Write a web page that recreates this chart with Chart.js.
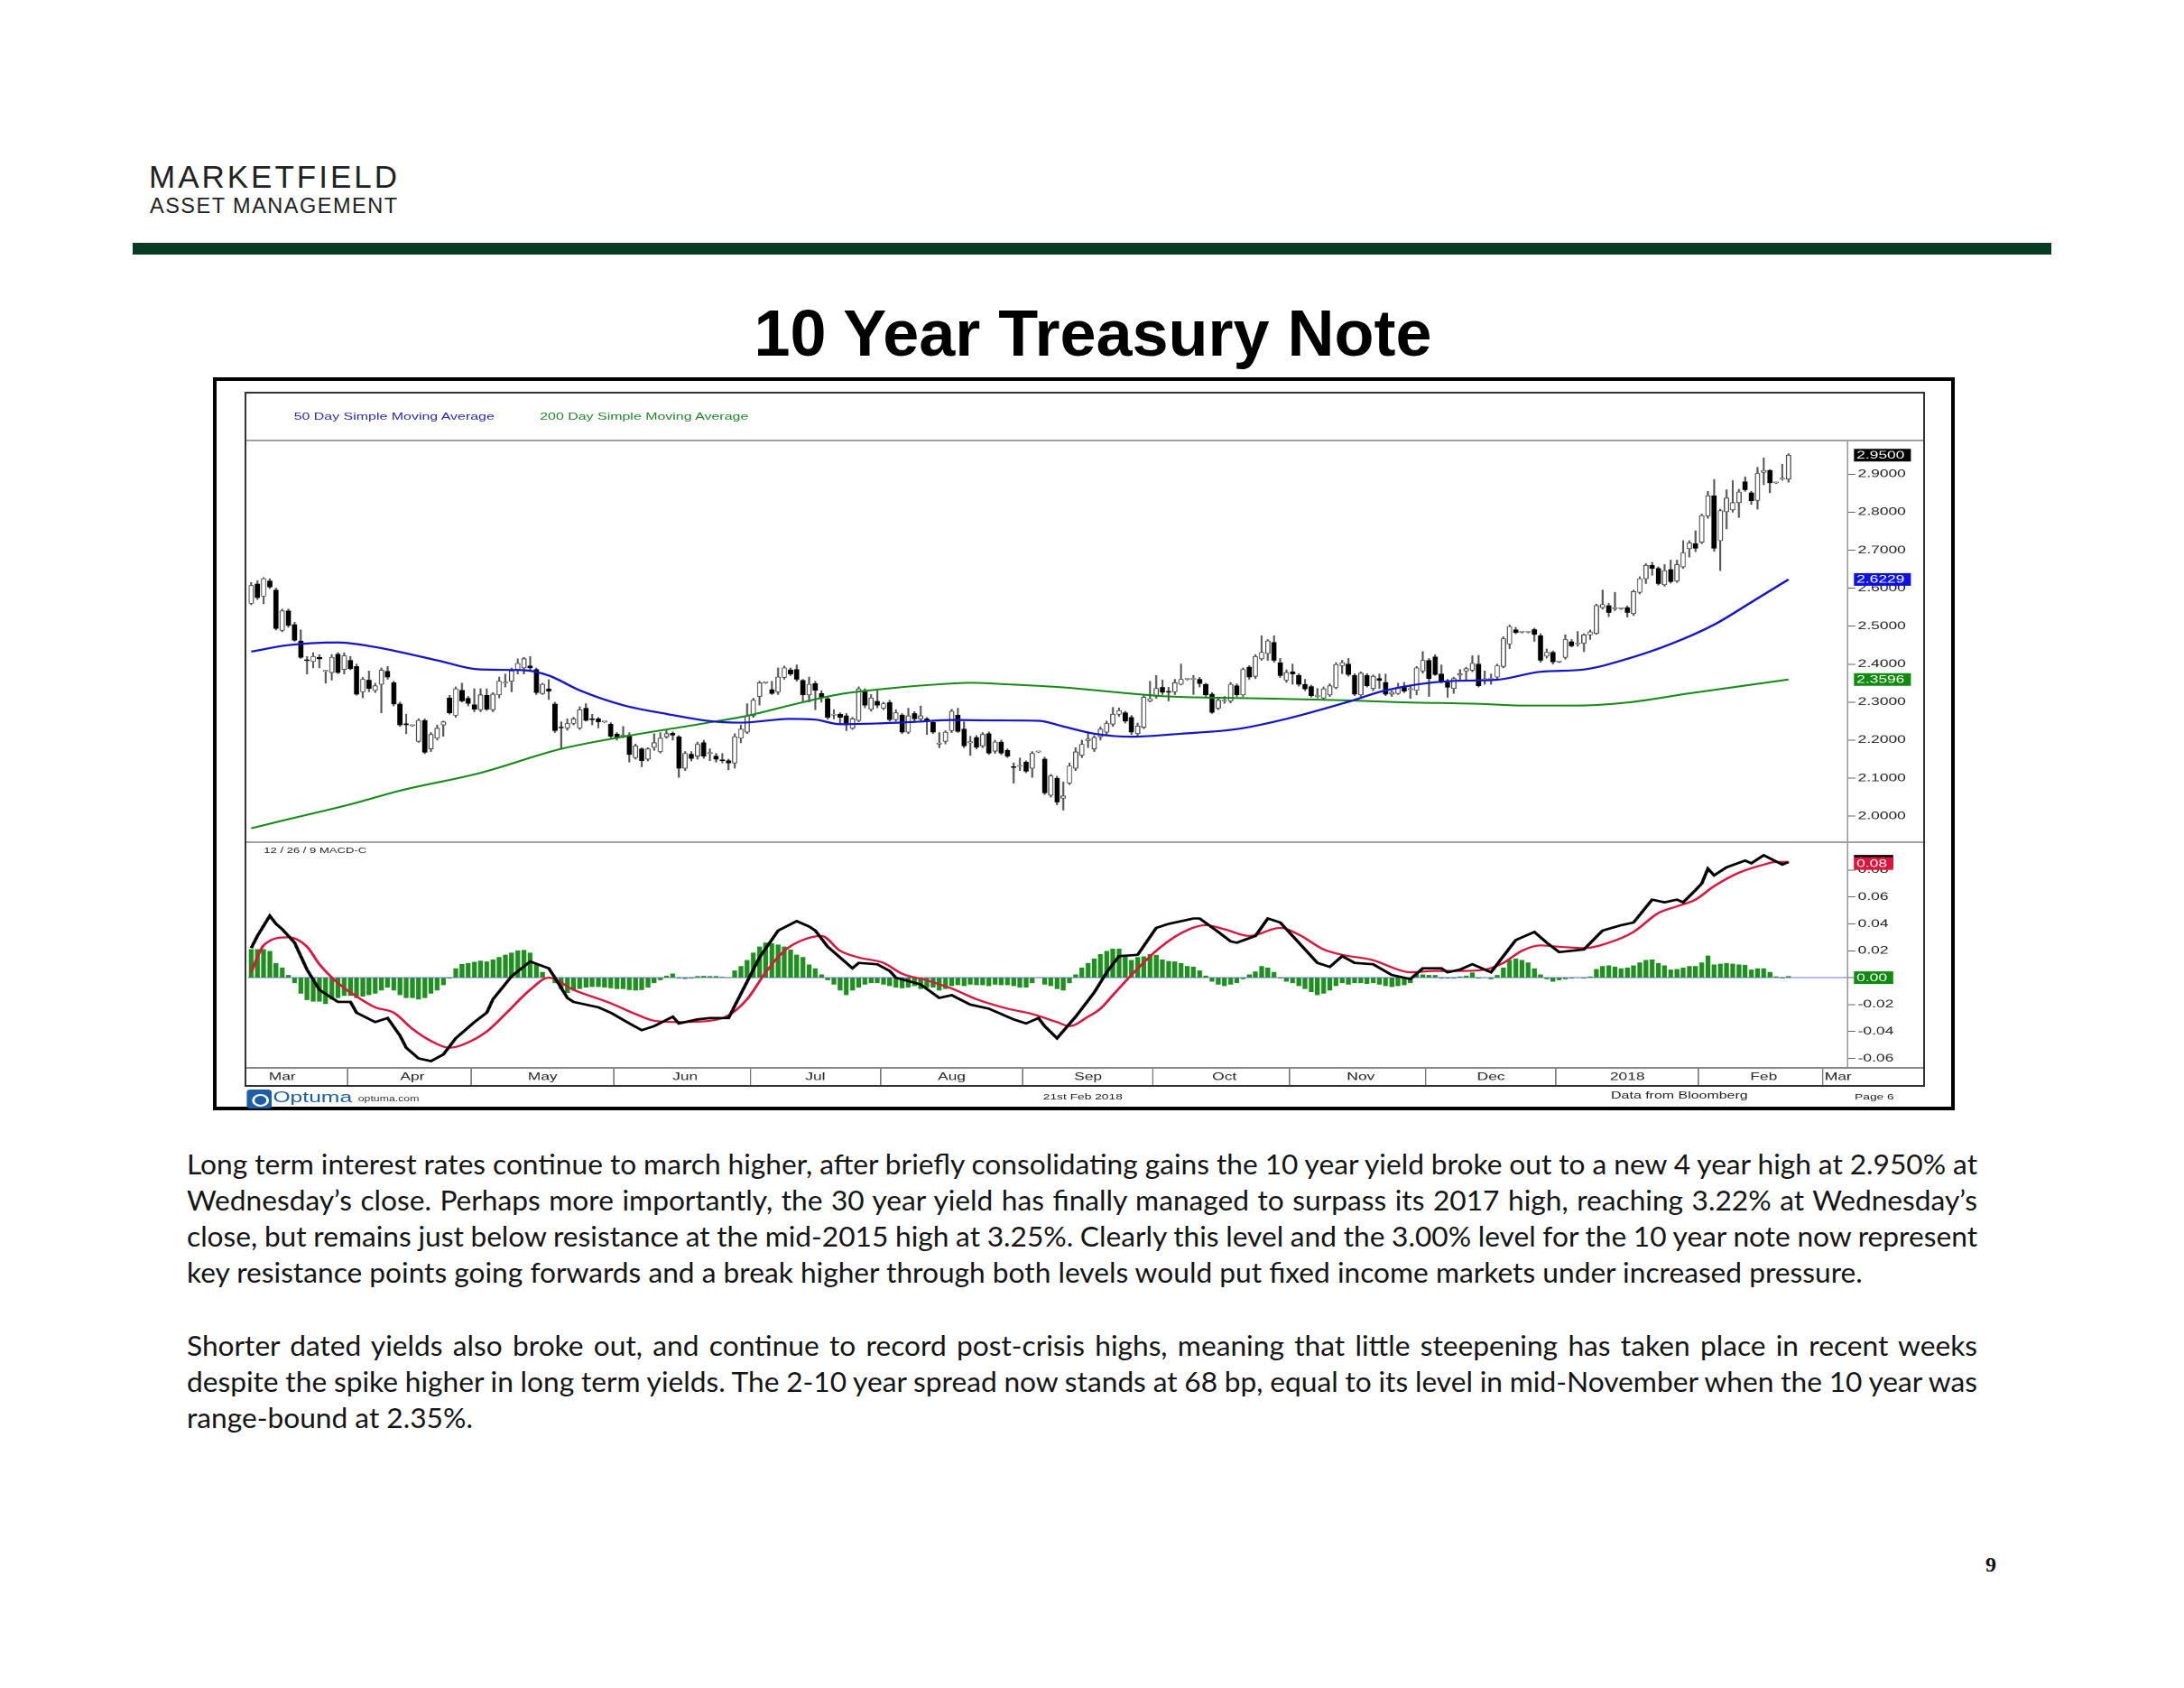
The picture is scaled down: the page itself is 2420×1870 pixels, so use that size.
<!DOCTYPE html>
<html>
<head>
<meta charset="utf-8">
<title>10 Year Treasury Note</title>
<script src="https://cdn.jsdelivr.net/npm/chart.js@4.4.1/dist/chart.umd.min.js"></script>
<style>
  html, body { margin: 0; padding: 0; background: #fff; }
  #page { position: relative; width: 2420px; height: 1870px; overflow: hidden; font-family: "Liberation Sans", Arial, sans-serif; color: #111; }
  .abs { position: absolute; white-space: nowrap; }
  #brand1 { left: 165px; top: 178px; font-size: 35px; line-height: 35px; color: #222; }
  #brand2 { left: 166px; top: 217px; font-size: 23.5px; line-height: 23.5px; color: #222; }
  #rule { left: 147px; top: 269px; width: 2126px; height: 13px; background: #073b23; }
  #title { left: 0; width: 2422px; text-align: center; top: 333px; font-size: 72px; line-height: 72px; font-weight: bold; color: #000; }
  #box { left: 236px; top: 418px; width: 1930px; height: 812px; border: 4px solid #000; box-sizing: border-box; }
  #frame { left: 271px; top: 434px; width: 1862px; height: 770px; border: 2px solid #333; box-sizing: border-box; }
  .sep { left: 273px; width: 1858px; height: 2px; background: #a0a0a0; }
  #stretch { left: 272px; top: 435px; width: 1283px; height: 795px; transform: scaleX(1.4497); transform-origin: 0 0; }
  #stretch div { position: absolute; white-space: nowrap; }
  .leg { top: 21px; font-size: 11px; line-height: 11px; }
  #priceBox { left: 0; top: 53px; width: 1283px; height: 445px; }
  #macdBox { left: 0; top: 498px; width: 1283px; height: 270px; }
  .foot { top: 775px; font-size: 9.5px; line-height: 10px; color: #222; text-align: center; }
  .jl { position: absolute; left: 207px; width: 1984px; height: 40px; line-height: 40px; white-space: nowrap; font-family: Lato, "Open Sans", sans-serif; font-size: 28px; color: #151515; }
  #pageNo { left: 2192px; top: 1720px; width: 28px; text-align: center; font-family: "Liberation Serif", serif; font-weight: bold; font-size: 24px; line-height: 26px; }
</style>
</head>
<body>
<div id="page">
  <div class="abs" id="brand1">MARKETFIELD</div>
  <div class="abs" id="brand2">ASSET MANAGEMENT</div>
  <div class="abs" id="rule"></div>
  <div class="abs" id="title">10 Year Treasury Note</div>

  <div class="abs" id="box"></div>

  <div class="abs" id="stretch">
    <div class="leg" style="left:37px;color:#2a2ab8;">50 Day Simple Moving Average</div>
    <div class="leg" style="left:225px;color:#23882a;">200 Day Simple Moving Average</div>
    <div id="priceBox"><canvas id="priceChart"></canvas></div>
    <div id="macdBox"><canvas id="macdChart"></canvas></div>
    <div style="left:14px;top:502px;font-size:9px;line-height:10px;color:#222;">12 / 26 / 9 MACD-C</div>
    <div style="left:1px;top:772px;width:19px;height:21px;background:#1d5ea8;border-radius:3px;"></div>
    <div style="left:5px;top:777px;width:9px;height:10px;border:2px solid #fff;border-radius:50%;"></div>
    <div style="left:21px;top:771px;font-size:17px;line-height:20px;color:#1d5ea8;">Optuma</div>
    <div style="left:86px;top:777px;font-size:8.5px;line-height:10px;color:#333;">optuma.com</div>
    <div class="foot" style="left:590px;width:100px;">21st Feb 2018</div>
    <div class="foot" style="left:1036px;width:120px;top:773px;font-size:11px;">Data from Bloomberg</div>
    <div class="foot" style="left:1220px;width:50px;">Page 6</div>
  </div>

  <div class="abs" id="frame"></div>
  <div class="abs sep" style="top:487px;"></div>
  <div class="abs sep" style="top:932px;"></div>
  <div class="abs sep" style="top:1182px;background:#888;"></div>

  <div class="jl just" style="top:1269px;"><span>Long term interest rates continue to march higher, after briefly consolidating gains the 10 year yield broke out to a new 4 year high at 2.950% at</span></div>
  <div class="jl just" style="top:1309px;"><span>Wednesday’s close. Perhaps more importantly, the 30 year yield has finally managed to surpass its 2017 high, reaching 3.22% at Wednesday’s</span></div>
  <div class="jl just" style="top:1349px;"><span>close, but remains just below resistance at the mid-2015 high at 3.25%. Clearly this level and the 3.00% level for the 10 year note now represent</span></div>
  <div class="jl" id="refLine" style="top:1389px;"><span>key resistance points going forwards and a break higher through both levels would put fixed income markets under increased pressure.</span></div>
  <div class="jl just" style="top:1470px;"><span>Shorter dated yields also broke out, and continue to record post-crisis highs, meaning that little steepening has taken place in recent weeks</span></div>
  <div class="jl just" style="top:1510px;"><span>despite the spike higher in long term yields. The 2-10 year spread now stands at 68 bp, equal to its level in mid-November when the 10 year was</span></div>
  <div class="jl" style="top:1550px;"><span>range-bound at 2.35%.</span></div>

  <div class="abs" id="pageNo">9</div>
</div>

<script>
// daily candles, Mar 10 2017 .. Feb 21 2018 (trading days)
const candleOpen = [
  2.560, 2.611, 2.579, 2.619, 2.595, 2.489, 2.540, 2.504, 2.461, 2.410,
  2.407, 2.418, 2.381, 2.378, 2.426, 2.386, 2.410, 2.394, 2.327, 2.358,
  2.331, 2.347, 2.381, 2.351, 2.295, 2.243, 2.238, 2.197, 2.252, 2.177,
  2.205, 2.240, 2.311, 2.265, 2.331, 2.310, 2.293, 2.280, 2.318, 2.280,
  2.319, 2.350, 2.355, 2.386, 2.390, 2.395, 2.386, 2.323, 2.335, 2.295,
  2.234, 2.232, 2.244, 2.232, 2.284, 2.256, 2.256, 2.248, 2.242, 2.216,
  2.210, 2.213, 2.154, 2.177, 2.150, 2.181, 2.170, 2.209, 2.218, 2.209,
  2.126, 2.163, 2.158, 2.193, 2.165, 2.158, 2.148, 2.146, 2.140, 2.205,
  2.221, 2.264, 2.315, 2.351, 2.333, 2.327, 2.365, 2.385, 2.386, 2.357,
  2.319, 2.349, 2.323, 2.309, 2.266, 2.268, 2.264, 2.231, 2.252, 2.331,
  2.281, 2.302, 2.284, 2.299, 2.254, 2.266, 2.221, 2.270, 2.256, 2.256,
  2.247, 2.190, 2.197, 2.225, 2.266, 2.229, 2.193, 2.207, 2.185, 2.217,
  2.171, 2.195, 2.173, 2.129, 2.131, 2.142, 2.126, 2.169, 2.150, 2.055,
  2.100, 2.047, 2.087, 2.126, 2.160, 2.199, 2.177, 2.209, 2.221, 2.242,
  2.268, 2.272, 2.260, 2.217, 2.234, 2.303, 2.315, 2.339, 2.327, 2.327,
  2.347, 2.360, 2.360, 2.360, 2.347, 2.321, 2.284, 2.303, 2.303, 2.343,
  2.319, 2.392, 2.368, 2.414, 2.428, 2.457, 2.404, 2.358, 2.380, 2.370,
  2.347, 2.341, 2.315, 2.311, 2.319, 2.339, 2.396, 2.400, 2.370, 2.319,
  2.370, 2.336, 2.362, 2.352, 2.321, 2.323, 2.339, 2.333, 2.331, 2.382,
  2.410, 2.419, 2.374, 2.352, 2.336, 2.371, 2.382, 2.384, 2.400, 2.359,
  2.360, 2.366, 2.394, 2.453, 2.490, 2.484, 2.484, 2.491, 2.475, 2.421,
  2.431, 2.406, 2.418, 2.459, 2.453, 2.455, 2.477, 2.481, 2.549, 2.554,
  2.546, 2.546, 2.549, 2.533, 2.589, 2.625, 2.660, 2.652, 2.609, 2.649,
  2.619, 2.656, 2.704, 2.717, 2.721, 2.790, 2.843, 2.725, 2.801, 2.806,
  2.825, 2.880, 2.851, 2.831, 2.905, 2.910, 2.877, 2.887, 2.887
];
const candleHigh = [
  2.615, 2.620, 2.628, 2.625, 2.600, 2.545, 2.545, 2.510, 2.490, 2.420,
  2.430, 2.425, 2.384, 2.425, 2.430, 2.430, 2.420, 2.400, 2.365, 2.382,
  2.350, 2.390, 2.394, 2.355, 2.300, 2.268, 2.240, 2.256, 2.256, 2.220,
  2.240, 2.250, 2.318, 2.340, 2.350, 2.315, 2.335, 2.335, 2.335, 2.325,
  2.366, 2.374, 2.390, 2.414, 2.418, 2.420, 2.390, 2.350, 2.359, 2.300,
  2.248, 2.256, 2.260, 2.288, 2.296, 2.268, 2.260, 2.250, 2.246, 2.220,
  2.236, 2.220, 2.190, 2.180, 2.180, 2.217, 2.220, 2.225, 2.222, 2.212,
  2.170, 2.170, 2.195, 2.200, 2.177, 2.165, 2.165, 2.150, 2.217, 2.240,
  2.296, 2.310, 2.355, 2.353, 2.355, 2.390, 2.395, 2.390, 2.398, 2.360,
  2.366, 2.355, 2.330, 2.315, 2.280, 2.272, 2.270, 2.260, 2.340, 2.335,
  2.320, 2.330, 2.300, 2.305, 2.280, 2.270, 2.284, 2.275, 2.290, 2.260,
  2.250, 2.220, 2.225, 2.281, 2.284, 2.248, 2.210, 2.212, 2.220, 2.222,
  2.200, 2.200, 2.177, 2.140, 2.153, 2.146, 2.170, 2.171, 2.155, 2.110,
  2.105, 2.090, 2.140, 2.180, 2.200, 2.220, 2.212, 2.235, 2.250, 2.286,
  2.285, 2.276, 2.265, 2.245, 2.320, 2.355, 2.370, 2.358, 2.339, 2.360,
  2.400, 2.362, 2.370, 2.365, 2.350, 2.325, 2.310, 2.315, 2.352, 2.348,
  2.390, 2.396, 2.425, 2.475, 2.465, 2.475, 2.415, 2.385, 2.400, 2.375,
  2.360, 2.345, 2.336, 2.340, 2.348, 2.404, 2.410, 2.415, 2.375, 2.380,
  2.375, 2.372, 2.374, 2.374, 2.330, 2.350, 2.352, 2.344, 2.394, 2.433,
  2.415, 2.425, 2.398, 2.360, 2.366, 2.386, 2.392, 2.422, 2.423, 2.382,
  2.374, 2.400, 2.472, 2.503, 2.497, 2.486, 2.486, 2.495, 2.480, 2.440,
  2.435, 2.408, 2.477, 2.465, 2.486, 2.480, 2.490, 2.558, 2.595, 2.560,
  2.589, 2.548, 2.553, 2.595, 2.630, 2.665, 2.668, 2.656, 2.662, 2.674,
  2.674, 2.725, 2.725, 2.751, 2.795, 2.855, 2.886, 2.808, 2.859, 2.883,
  2.860, 2.893, 2.855, 2.918, 2.943, 2.912, 2.879, 2.926, 2.954
];
const candleLow = [
  2.556, 2.570, 2.559, 2.599, 2.490, 2.485, 2.497, 2.460, 2.415, 2.374,
  2.390, 2.390, 2.350, 2.358, 2.375, 2.374, 2.385, 2.318, 2.311, 2.327,
  2.325, 2.272, 2.360, 2.290, 2.236, 2.217, 2.236, 2.194, 2.164, 2.170,
  2.200, 2.210, 2.268, 2.260, 2.300, 2.290, 2.275, 2.275, 2.278, 2.275,
  2.311, 2.340, 2.327, 2.374, 2.374, 2.385, 2.320, 2.320, 2.307, 2.220,
  2.177, 2.226, 2.240, 2.228, 2.250, 2.240, 2.232, 2.246, 2.206, 2.200,
  2.206, 2.142, 2.150, 2.130, 2.145, 2.173, 2.166, 2.205, 2.200, 2.102,
  2.120, 2.145, 2.150, 2.152, 2.146, 2.142, 2.140, 2.122, 2.126, 2.193,
  2.217, 2.260, 2.292, 2.349, 2.320, 2.320, 2.360, 2.370, 2.355, 2.300,
  2.300, 2.280, 2.300, 2.255, 2.256, 2.244, 2.225, 2.228, 2.248, 2.285,
  2.276, 2.285, 2.280, 2.250, 2.250, 2.217, 2.217, 2.250, 2.250, 2.215,
  2.217, 2.180, 2.190, 2.220, 2.220, 2.180, 2.160, 2.177, 2.180, 2.162,
  2.165, 2.162, 2.154, 2.087, 2.120, 2.114, 2.102, 2.167, 2.057, 2.050,
  2.030, 2.016, 2.083, 2.120, 2.154, 2.180, 2.170, 2.200, 2.215, 2.236,
  2.262, 2.245, 2.215, 2.212, 2.230, 2.300, 2.310, 2.320, 2.303, 2.320,
  2.345, 2.358, 2.320, 2.340, 2.315, 2.270, 2.280, 2.297, 2.298, 2.315,
  2.315, 2.360, 2.362, 2.410, 2.410, 2.405, 2.365, 2.352, 2.347, 2.342,
  2.330, 2.313, 2.311, 2.307, 2.315, 2.335, 2.375, 2.368, 2.317, 2.315,
  2.340, 2.330, 2.336, 2.317, 2.315, 2.320, 2.325, 2.310, 2.319, 2.376,
  2.315, 2.370, 2.350, 2.313, 2.323, 2.360, 2.355, 2.380, 2.340, 2.347,
  2.347, 2.360, 2.390, 2.441, 2.480, 2.482, 2.482, 2.460, 2.405, 2.416,
  2.400, 2.404, 2.413, 2.445, 2.447, 2.433, 2.465, 2.478, 2.545, 2.525,
  2.541, 2.544, 2.524, 2.528, 2.585, 2.612, 2.634, 2.608, 2.605, 2.613,
  2.615, 2.652, 2.682, 2.696, 2.717, 2.784, 2.697, 2.646, 2.756, 2.800,
  2.786, 2.855, 2.820, 2.808, 2.872, 2.851, 2.875, 2.884, 2.879
];
const candleClose = [
  2.607, 2.575, 2.625, 2.603, 2.494, 2.540, 2.502, 2.463, 2.418, 2.409,
  2.420, 2.414, 2.383, 2.418, 2.378, 2.422, 2.388, 2.321, 2.360, 2.336,
  2.343, 2.384, 2.366, 2.295, 2.240, 2.240, 2.238, 2.252, 2.168, 2.215,
  2.231, 2.248, 2.272, 2.335, 2.303, 2.297, 2.281, 2.319, 2.281, 2.321,
  2.355, 2.352, 2.382, 2.402, 2.414, 2.390, 2.325, 2.347, 2.329, 2.225,
  2.232, 2.244, 2.256, 2.280, 2.252, 2.254, 2.248, 2.248, 2.210, 2.205,
  2.213, 2.162, 2.185, 2.146, 2.177, 2.193, 2.205, 2.217, 2.213, 2.126,
  2.165, 2.152, 2.189, 2.158, 2.167, 2.150, 2.146, 2.140, 2.209, 2.229,
  2.264, 2.305, 2.351, 2.351, 2.323, 2.366, 2.390, 2.374, 2.360, 2.319,
  2.347, 2.331, 2.313, 2.260, 2.268, 2.260, 2.240, 2.256, 2.335, 2.292,
  2.311, 2.292, 2.296, 2.254, 2.272, 2.221, 2.264, 2.256, 2.264, 2.250,
  2.221, 2.191, 2.221, 2.276, 2.223, 2.185, 2.195, 2.181, 2.215, 2.166,
  2.195, 2.166, 2.158, 2.128, 2.132, 2.118, 2.165, 2.169, 2.061, 2.106,
  2.037, 2.053, 2.132, 2.169, 2.189, 2.203, 2.207, 2.229, 2.244, 2.268,
  2.278, 2.250, 2.221, 2.237, 2.313, 2.309, 2.336, 2.326, 2.326, 2.351,
  2.360, 2.360, 2.361, 2.349, 2.319, 2.273, 2.305, 2.304, 2.347, 2.319,
  2.386, 2.366, 2.420, 2.431, 2.461, 2.410, 2.370, 2.378, 2.374, 2.347,
  2.335, 2.317, 2.316, 2.335, 2.343, 2.399, 2.404, 2.373, 2.321, 2.376,
  2.343, 2.368, 2.357, 2.321, 2.326, 2.339, 2.329, 2.334, 2.390, 2.410,
  2.362, 2.373, 2.355, 2.339, 2.362, 2.375, 2.388, 2.402, 2.343, 2.361,
  2.362, 2.396, 2.467, 2.499, 2.483, 2.484, 2.484, 2.478, 2.410, 2.431,
  2.406, 2.406, 2.465, 2.448, 2.454, 2.477, 2.485, 2.554, 2.557, 2.536,
  2.546, 2.546, 2.536, 2.591, 2.625, 2.660, 2.652, 2.612, 2.646, 2.617,
  2.662, 2.693, 2.719, 2.705, 2.791, 2.843, 2.705, 2.804, 2.837, 2.825,
  2.853, 2.859, 2.830, 2.902, 2.910, 2.877, 2.877, 2.888, 2.950
];

// moving averages: [trading day index, value]
const sma50Pts = [
  [0, 2.433], [6, 2.450], [14, 2.457], [20, 2.445], [24, 2.432], [30, 2.410], [37, 2.386],
  [44, 2.384], [48, 2.370], [53, 2.331], [60, 2.292], [67, 2.269], [74, 2.250], [79, 2.246],
  [87, 2.256], [91, 2.254], [95, 2.242], [101, 2.244], [107, 2.248], [113, 2.253], [120, 2.252],
  [127, 2.251], [131, 2.236], [136, 2.217], [142, 2.209], [150, 2.217], [159, 2.229], [167, 2.256],
  [177, 2.301], [183, 2.331], [193, 2.355], [201, 2.359], [208, 2.380], [215, 2.386], [222, 2.414],
  [229, 2.453], [236, 2.504], [242, 2.563], [248, 2.6229]
];
const sma200Pts = [
  [0, 1.968], [5, 1.988], [16, 2.031], [24, 2.067], [37, 2.114], [50, 2.177], [60, 2.209],
  [73, 2.244], [80, 2.264], [88, 2.296], [95, 2.321], [104, 2.338], [111, 2.347], [116, 2.351],
  [122, 2.347], [130, 2.340], [148, 2.315], [162, 2.310], [176, 2.305], [185, 2.300], [199, 2.295],
  [205, 2.291], [214, 2.291], [222, 2.299], [232, 2.323], [248, 2.3596]
];

// MACD 12/26/9
const macdPts = [
  [0, 0.022], [1, 0.031], [3, 0.046], [4, 0.040], [5, 0.036], [7, 0.026], [9, 0.006], [11, -0.009],
  [14, -0.018], [16, -0.018], [17, -0.026], [20, -0.033], [22, -0.030], [24, -0.043], [25, -0.052],
  [27, -0.060], [29, -0.062], [31, -0.057], [33, -0.045], [36, -0.033], [38, -0.026], [39, -0.016],
  [42, 0.001], [45, 0.012], [48, 0.007], [49, 0.000], [51, -0.015], [52, -0.018], [56, -0.022],
  [58, -0.026], [61, -0.034], [63, -0.039], [65, -0.036], [68, -0.029], [69, -0.034], [72, -0.031],
  [74, -0.030], [77, -0.030], [79, -0.012], [82, 0.015], [85, 0.035], [88, 0.042], [90, 0.038],
  [91, 0.035], [93, 0.023], [97, 0.007], [98, 0.011], [101, 0.010], [103, 0.005], [104, 0.000],
  [108, -0.005], [111, -0.015], [113, -0.013], [116, -0.020], [119, -0.023], [123, -0.031],
  [125, -0.034], [127, -0.030], [128, -0.036], [130, -0.045], [133, -0.029], [136, -0.011],
  [138, 0.004], [140, 0.016], [143, 0.017], [146, 0.037], [148, 0.040], [152, 0.044], [153, 0.044],
  [156, 0.034], [158, 0.027], [159, 0.026], [162, 0.031], [164, 0.044], [166, 0.041], [169, 0.026],
  [172, 0.011], [174, 0.008], [176, 0.016], [178, 0.011], [181, 0.010], [184, 0.002], [186, 0.000],
  [187, -0.001], [189, 0.007], [192, 0.007], [193, 0.004], [195, 0.006], [197, 0.010], [200, 0.004],
  [202, 0.016], [204, 0.028], [207, 0.034], [209, 0.026], [211, 0.019], [213, 0.020], [215, 0.021],
  [218, 0.035], [221, 0.039], [223, 0.041], [226, 0.058], [228, 0.056], [230, 0.058], [231, 0.056],
  [233, 0.065], [234, 0.070], [235, 0.081], [236, 0.076], [238, 0.082], [241, 0.087], [242, 0.085],
  [244, 0.091], [247, 0.084], [248, 0.086]
];
const signalPts = [
  [0, 0.004], [2, 0.024], [6, 0.030], [9, 0.023], [11, 0.010], [14, -0.004], [17, -0.014],
  [20, -0.022], [23, -0.026], [26, -0.038], [29, -0.047], [32, -0.052], [34, -0.050], [38, -0.040],
  [41, -0.027], [45, -0.009], [48, 0.000], [52, -0.009], [58, -0.019], [62, -0.027], [65, -0.032],
  [69, -0.033], [74, -0.032], [77, -0.028], [80, -0.016], [83, 0.004], [86, 0.020], [89, 0.028],
  [92, 0.031], [95, 0.020], [98, 0.015], [102, 0.011], [105, 0.003], [109, -0.002], [113, -0.008],
  [117, -0.016], [122, -0.023], [126, -0.027], [130, -0.033], [132, -0.036], [135, -0.029],
  [137, -0.023], [139, -0.013], [142, 0.002], [146, 0.020], [150, 0.033], [154, 0.039], [157, 0.036],
  [161, 0.031], [166, 0.037], [169, 0.032], [173, 0.021], [176, 0.017], [181, 0.013], [185, 0.006],
  [187, 0.004], [191, 0.005], [195, 0.005], [199, 0.006], [202, 0.011], [205, 0.020], [208, 0.024],
  [211, 0.023], [215, 0.022], [219, 0.026], [223, 0.034], [227, 0.048], [230, 0.053], [233, 0.058],
  [236, 0.068], [240, 0.078], [244, 0.084], [246, 0.086], [248, 0.086]
];
const macdHist = [
  0.021, 0.021, 0.021, 0.0196, 0.0107, 0.0073, 0.0018, -0.0038, -0.0116, -0.0164,
  -0.0176, -0.0176, -0.0193, -0.016, -0.0149, -0.0133, -0.0133, -0.0149, -0.0138, -0.0127,
  -0.0116, -0.0093, -0.0071, -0.0093, -0.0127, -0.0149, -0.0149, -0.016, -0.0149, -0.0116,
  -0.0093, -0.0053, -0.0004, 0.0067, 0.01, 0.0107, 0.0116, 0.0124, 0.0118, 0.0133,
  0.0151, 0.0169, 0.0184, 0.02, 0.0204, 0.0184, 0.0096, 0.004, 0, -0.0038,
  -0.0082, -0.0111, -0.0093, -0.0082, -0.0071, -0.0067, -0.0067, -0.0071, -0.0076, -0.0082,
  -0.0082, -0.0089, -0.0093, -0.0089, -0.0071, -0.0038, -0.0016, 0.0013, 0.0029, -0.0004,
  -0.0007, -0.0004, 0.0009, 0.0011, 0.0009, 0.0009, 0.0004, 0, 0.0051, 0.0084,
  0.0129, 0.0184, 0.0229, 0.0258, 0.0253, 0.0244, 0.0229, 0.0207, 0.0169, 0.0151,
  0.0096, 0.0067, 0.0022, -0.0016, -0.0049, -0.0093, -0.0127, -0.0093, -0.0071, -0.0049,
  -0.0038, -0.0038, -0.0049, -0.006, -0.0071, -0.0076, -0.0071, -0.006, -0.0082, -0.0071,
  -0.0071, -0.0093, -0.0082, -0.006, -0.0053, -0.006, -0.0049, -0.0053, -0.0053, -0.006,
  -0.0049, -0.0053, -0.0053, -0.006, -0.0071, -0.0071, -0.0038, 0, -0.0049, -0.006,
  -0.0082, -0.0093, -0.0038, 0.0022, 0.0073, 0.0107, 0.014, 0.0173, 0.0196, 0.0213,
  0.0213, 0.0169, 0.0129, 0.0151, 0.0156, 0.0173, 0.0167, 0.0133, 0.0122, 0.0118,
  0.0107, 0.0084, 0.008, 0.0051, 0.0013, -0.0027, -0.0049, -0.006, -0.0049, -0.0038,
  -0.0009, 0.0022, 0.0044, 0.0084, 0.0073, 0.004, -0.0004, -0.0027, -0.0038, -0.006,
  -0.0082, -0.0104, -0.0127, -0.0116, -0.0093, -0.006, -0.0038, -0.0049, -0.0038, -0.0038,
  -0.0044, -0.0038, -0.0049, -0.006, -0.0067, -0.006, -0.0053, -0.0038, 0.0022, 0.0022,
  0.0018, 0.0018, -0.0004, -0.0004, -0.0004, 0.0007, 0.0013, 0.0036, -0.0004, 0,
  -0.0009, 0.0018, 0.0073, 0.0129, 0.014, 0.0129, 0.0111, 0.0067, 0.0022, -0.0009,
  -0.0027, -0.0016, -0.0009, -0.0004, 0, -0.0004, 0.0007, 0.0062, 0.0084, 0.0089,
  0.008, 0.0067, 0.0073, 0.0089, 0.0111, 0.0129, 0.0133, 0.0107, 0.0089, 0.0058,
  0.0062, 0.0073, 0.0084, 0.0084, 0.0111, 0.0162, 0.0096, 0.0102, 0.0107, 0.0102,
  0.0096, 0.0093, 0.0058, 0.0067, 0.0067, 0.004, 0.0007, -0.0004, 0.0009
];

// axes
const priceTicks = [2.0, 2.1, 2.2, 2.3, 2.4, 2.5, 2.6, 2.7, 2.8, 2.9];
const macdTicks = [-0.06, -0.04, -0.02, 0, 0.02, 0.04, 0.06, 0.08];
const monthStartIdx = [16, 36, 59, 81, 102, 125, 146, 168, 190, 211, 234, 254];
const monthLabelIdx = [5, 26, 47, 70, 91, 113, 135, 157, 179, 200, 222, 244, 256];
const monthNames = ['Mar', 'Apr', 'May', 'Jun', 'Jul', 'Aug', 'Sep', 'Oct', 'Nov', 'Dec', '2018', 'Feb', 'Mar'];

// last-value tags on the right axis
const priceTagValues = [2.95, 2.6229, 2.3596];
const priceTagTexts = ['2.9500', '2.6229', '2.3596'];
const macdTagValues = [0.0865, 0.0848, 0];
const macdTagTexts = ['0.09', '0.08', '0.00'];

const slots = Array.from({ length: 258 }, (_, i) => i);
const toPts = arr => arr.map(p => ({ x: p[0], y: p[1] }));
const FONT = '"Liberation Sans", Arial, sans-serif';
const AXIS_W = 58.6;

const tagPlugin = {
  id: 'valueTags',
  afterDraw(chart, args, opts) {
    const ctx = chart.ctx;
    const y = chart.scales.y;
    ctx.save();
    ctx.font = '12px ' + FONT;
    ctx.textBaseline = 'middle';
    opts.values.forEach((v, k) => {
      const py = y.getPixelForValue(v);
      ctx.fillStyle = opts.colors[k];
      ctx.fillRect(y.left + 5, py - 7, opts.width, 14);
      ctx.fillStyle = '#fff';
      ctx.fillText(opts.texts[k], y.left + 7, py + 0.5);
    });
    ctx.restore();
  }
};

const isUp = i => candleClose[i] >= candleOpen[i];

new Chart(document.getElementById('priceChart'), {
  type: 'bar',
  data: {
    labels: slots,
    datasets: [
      { type: 'line', data: toPts(sma50Pts), borderColor: '#1515c8', borderWidth: 2.2, pointRadius: 0, cubicInterpolationMode: 'monotone', order: 0 },
      { type: 'line', data: toPts(sma200Pts), borderColor: '#168a16', borderWidth: 2, pointRadius: 0, cubicInterpolationMode: 'monotone', order: 0 },
      {
        data: candleOpen.map((o, i) => [o, candleClose[i]]),
        backgroundColor: c => isUp(c.dataIndex) ? '#ffffff' : '#000000',
        borderColor: c => isUp(c.dataIndex) ? '#3c3c3c' : '#000000',
        borderWidth: 0.8, borderSkipped: false, barThickness: 3.4, minBarLength: 1, grouped: false, order: 1
      },
      { data: candleLow.map((l, i) => [l, candleHigh[i]]), backgroundColor: '#555', barThickness: 0.8, grouped: false, order: 2 }
    ]
  },
  options: {
    responsive: true, maintainAspectRatio: false, animation: false, devicePixelRatio: 2, events: [],
    layout: { padding: { left: 2, right: 0, top: 0, bottom: 0 } },
    plugins: {
      legend: { display: false }, tooltip: { enabled: false },
      valueTags: { values: priceTagValues, texts: priceTagTexts, colors: ['#000000', '#1010e0', '#108a10'], width: 43.5 }
    },
    scales: {
      x: { type: 'category', display: false, offset: true },
      y: {
        position: 'right', min: 1.934, max: 2.986,
        afterBuildTicks: s => { s.ticks = priceTicks.map(v => ({ value: v })); },
        afterFit: s => { s.width = AXIS_W; s.paddingTop = 0; s.paddingBottom = 0; },
        grid: { drawOnChartArea: false, tickLength: 6, color: '#666', tickColor: '#666' },
        border: { display: true, color: '#9a9a9a', width: 1 },
        ticks: { padding: 2, color: '#222', font: { family: FONT, size: 12 }, callback: v => Number(v).toFixed(4) }
      }
    }
  },
  plugins: [tagPlugin]
});

new Chart(document.getElementById('macdChart'), {
  type: 'bar',
  data: {
    labels: slots,
    datasets: [
      { type: 'line', data: toPts(macdPts), borderColor: '#000', borderWidth: 2.6, pointRadius: 0, tension: 0, order: 0 },
      { type: 'line', data: toPts(signalPts), borderColor: '#d8163e', borderWidth: 2.2, pointRadius: 0, cubicInterpolationMode: 'monotone', order: 1 },
      { data: macdHist, backgroundColor: '#1f8f1f', barThickness: 3.0, order: 3 }
    ]
  },
  options: {
    responsive: true, maintainAspectRatio: false, animation: false, devicePixelRatio: 2, events: [],
    layout: { padding: { left: 2, right: 0, top: 0, bottom: 0 } },
    plugins: {
      legend: { display: false }, tooltip: { enabled: false },
      valueTags: { values: macdTagValues, texts: macdTagTexts, colors: ['#000000', '#dc143c', '#108a10'], width: 30 }
    },
    scales: {
      x: {
        type: 'category', offset: true,
        grid: {
          offset: true, drawOnChartArea: false, drawTicks: true, tickLength: 20, lineWidth: 1,
          color: c => monthStartIdx.includes(c.index) ? '#777' : 'rgba(0,0,0,0)'
        },
        border: { display: false },
        ticks: {
          autoSkip: false, maxRotation: 0, minRotation: 0, padding: -17, color: '#222',
          font: { family: FONT, size: 12 },
          callback: (v, i) => { const k = monthLabelIdx.indexOf(i); return k >= 0 ? monthNames[k] : ''; }
        },
        afterFit: s => { s.height = 20; s.paddingLeft = 0; s.paddingRight = 0; }
      },
      y: {
        position: 'right', min: -0.067, max: 0.0998,
        afterBuildTicks: s => { s.ticks = macdTicks.map(v => ({ value: v })); },
        afterFit: s => { s.width = AXIS_W; s.paddingTop = 0; s.paddingBottom = 0; },
        grid: {
          drawOnChartArea: true, tickLength: 6, tickColor: '#666', lineWidth: 1,
          color: c => (c.tick && Math.abs(c.tick.value) < 1e-9) ? '#7070e4' : 'rgba(0,0,0,0)'
        },
        border: { display: true, color: '#9a9a9a', width: 1 },
        ticks: { padding: 2, color: '#222', font: { family: FONT, size: 12 }, callback: v => Number(v).toFixed(2) }
      }
    }
  },
  plugins: [tagPlugin]
});

// header letter spacing to match the logo widths
function fitWidth(el, target) {
  const n = el.textContent.length;
  const w = el.getBoundingClientRect().width;
  el.style.letterSpacing = ((target - w) / (n - 1)) + 'px';
}
fitWidth(document.getElementById('brand1'), 275);
fitWidth(document.getElementById('brand2'), 274);

// body text: size from the unjustified line, then justify the others
const refSpan = document.querySelector('#refLine span');
const bodySize = 28 * 1857 / refSpan.getBoundingClientRect().width;
document.querySelectorAll('.jl').forEach(el => { el.style.fontSize = bodySize + 'px'; });
document.querySelectorAll('.jl.just').forEach(el => {
  const span = el.firstElementChild;
  const natural = span.getBoundingClientRect().width;
  const spaces = (span.textContent.match(/ /g) || []).length;
  el.style.wordSpacing = ((1984 - natural) / spaces) + 'px';
});
</script>
</body>
</html>
